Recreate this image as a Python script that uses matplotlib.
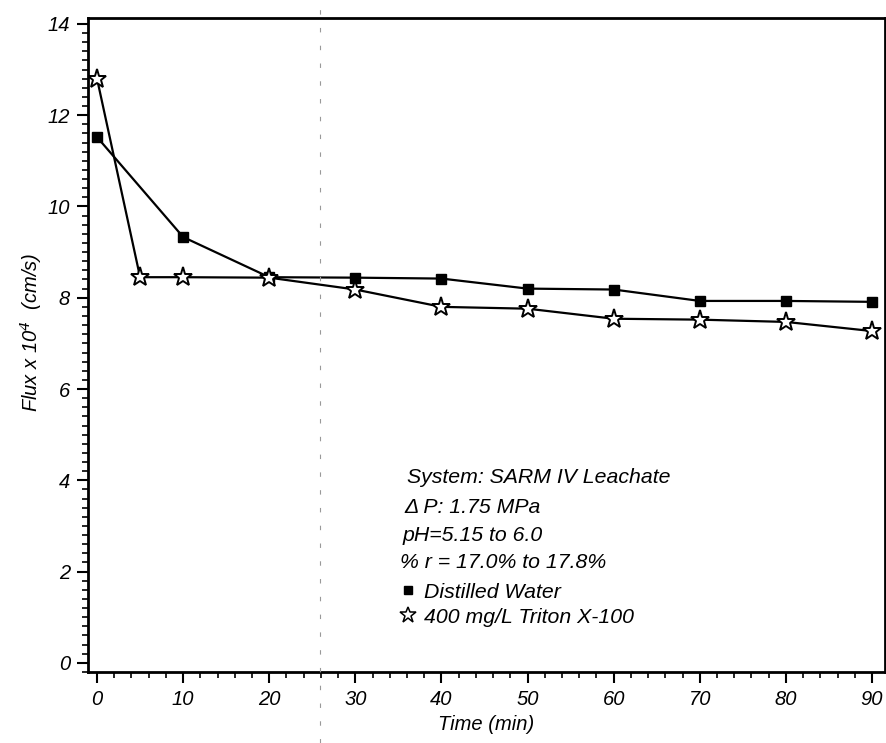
import matplotlib
matplotlib.use('Agg')
import matplotlib.pyplot as plt
from matplotlib.lines import Line2D
from matplotlib.ticker import MultipleLocator

plt.rcParams['font.family'] = ['Liberation Sans', 'DejaVu Sans']
plt.rcParams['font.style'] = 'italic'

# distilled water (squares)
t_water = [0, 10, 20, 30, 40, 50, 60, 70, 80, 90]
flux_water = [11.52, 9.33, 8.45, 8.44, 8.42, 8.2, 8.18, 7.93, 7.93, 7.91]

# 400 mg/L Triton X-100 (stars)
t_triton = [0, 5, 10, 20, 30, 40, 50, 60, 70, 80, 90]
flux_triton = [12.8, 8.45, 8.45, 8.44, 8.18, 7.8, 7.76, 7.54, 7.52, 7.47, 7.27]

x_ticks = [0, 10, 20, 30, 40, 50, 60, 70, 80, 90]
y_ticks = [0, 2, 4, 6, 8, 10, 12, 14]

info_lines = ['System: SARM IV Leachate', 'Δ P: 1.75 MPa',
              'pH=5.15 to 6.0', '% r = 17.0% to 17.8%']

fig = plt.figure(figsize=(8.87, 7.43), dpi=100)
ax = fig.add_axes([0.0992, 0.0956, 0.8985, 0.8802])

ax.plot(t_water, flux_water, c='black', lw=1.6, marker='s', ms=6.5,
        mfc='black', mec='black', zorder=3)
ax.plot(t_triton, flux_triton, c='black', lw=1.6, marker='*', ms=14,
        mfc='white', mec='black', mew=1.4, zorder=4)

ax.set_xlim(-1.05, 91.5)
ax.set_ylim(-0.2, 14.13)
ax.set_xticks(x_ticks)
ax.set_yticks(y_ticks)
ax.xaxis.set_minor_locator(MultipleLocator(2))
ax.yaxis.set_minor_locator(MultipleLocator(0.2))
ax.tick_params(which='major', direction='out', length=8, width=1.5, labelsize=14.5, pad=5)
ax.tick_params(which='minor', direction='out', length=4, width=1.2)
for s in ax.spines.values():
    s.set_linewidth(2)

ax.set_xlabel('Time (min)', fontsize=14.5, labelpad=4)
ax.set_ylabel('Flux x 10$^{4}$  (cm/s)', fontsize=14.5)
ax.yaxis.set_label_coords(-0.055, 0.52)

ys = [0.298, 0.252, 0.209, 0.167]
xs = [0.400, 0.397, 0.395, 0.392]
for txt, x, y in zip(info_lines, xs, ys):
    ax.text(x, y, txt, transform=ax.transAxes, fontsize=15.3, va='center', ha='left')

handles = [Line2D([], [], ls='none', marker='s', ms=5.5, mfc='black', mec='black'),
           Line2D([], [], ls='none', marker='*', ms=12, mfc='white', mec='black', mew=1.1)]
ax.legend(handles, ['Distilled Water', '400 mg/L Triton X-100'], loc='upper left',
          bbox_to_anchor=(0.377, 0.153), frameon=False, fontsize=15.3,
          handlelength=0.8, handletextpad=0.35, labelspacing=0.3, borderpad=0)

# fold line in the scanned page
fig.add_artist(Line2D([320 / 887, 320 / 887], [0.0, 1.0], color='0.6', lw=0.8,
                      ls=(0, (4, 12)), transform=fig.transFigure))

fig.savefig('out.png', dpi=100)
